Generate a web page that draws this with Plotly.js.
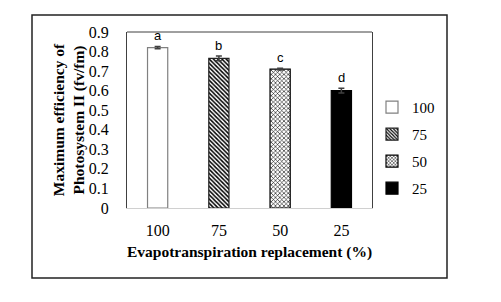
<!DOCTYPE html>
<html><head><meta charset="utf-8">
<script src="https://cdn.plot.ly/plotly-3.0.1.min.js"></script>
<style>body{margin:0;background:#fff}#c{width:501px;height:302px}</style>
</head><body><div id="c"></div>
<script>
const categories = ['100','75','50','25'];
const values = [0.82, 0.765, 0.71, 0.60];
const errors = [0.006, 0.012, 0.004, 0.012];
const letters = ['a','b','c','d'];

const styles = [
  {color:'#ffffff', pattern:{shape:''}, line:'#808080'},
  {color:'#ffffff', pattern:{shape:'\\', fgcolor:'#000', bgcolor:'#fff', size:3, solidity:0.5}, line:'#222'},
  {color:'#ffffff', pattern:{shape:'x', fgcolor:'#000', bgcolor:'#fff', size:3, solidity:0.35}, line:'#000'},
  {color:'#000000', pattern:{shape:''}, line:'#000'}
];

const traces = categories.map((c,i)=>({
  type:'bar', x:[c], y:[values[i]], name:c, width:0.33,
  legendgroup:'g'+i,
  marker:{color:styles[i].color, pattern:styles[i].pattern, line:{color:styles[i].line, width:1.2}},
  error_y:{type:'data', array:[errors[i]], visible:true, color:'#404040', thickness:1.5, width:3}
}));

const annotations = categories.map((c,i)=>({
  x:i, y:values[i]+errors[i], text:letters[i], showarrow:false,
  yanchor:'bottom', yshift:1, font:{family:'Liberation Sans, Arial', size:13, color:'#000'}
}));

const layout = {
  width:501, height:302,
  margin:{l:127, r:129, t:32, b:94},
  paper_bgcolor:'#fff', plot_bgcolor:'#fff',
  barmode:'overlay', showlegend:true,
  font:{family:'Liberation Serif, Times New Roman', size:16, color:'#000'},
  xaxis:{type:'category', categoryorder:'array', categoryarray:categories, range:[-0.5,3.5],
    showline:true, linecolor:'#d0d0d0', linewidth:1, ticks:'', showgrid:false,
    ticklabelstandoff:8, tickfont:{size:16},
    title:{text:'<b>Evapotranspiration replacement (%)</b>', font:{size:15.5}, standoff:7}},
  yaxis:{range:[0,0.9], dtick:0.1, showline:true, linecolor:'#404040', linewidth:1,
    mirror:true, ticks:'', showgrid:false, zeroline:false, ticklabelstandoff:14, tickfont:{size:16},
    title:{text:'<b>Maximum efficiency of<br>Photosystem II (fv/fm)</b>', font:{size:15.5}, standoff:0}},
  legend:{x:1.0, y:0.665, xanchor:'left', yanchor:'top', traceorder:'grouped', tracegroupgap:4.5,
    font:{size:15}, bgcolor:'rgba(0,0,0,0)'},
  annotations:annotations,
  shapes:[
    {type:'line', xref:'paper', yref:'paper', x0:0, x1:1, y0:1, y1:1, line:{color:'#404040', width:1}},
    {type:'rect', xref:'paper', yref:'paper',
     x0:(32-127)/245, x1:(447-127)/245, y0:(208-278)/176, y1:(208-15)/176,
     line:{color:'#222', width:1.5}}
  ]
};
Plotly.newPlot('c', traces, layout, {staticPlot:true});
</script></body></html>
